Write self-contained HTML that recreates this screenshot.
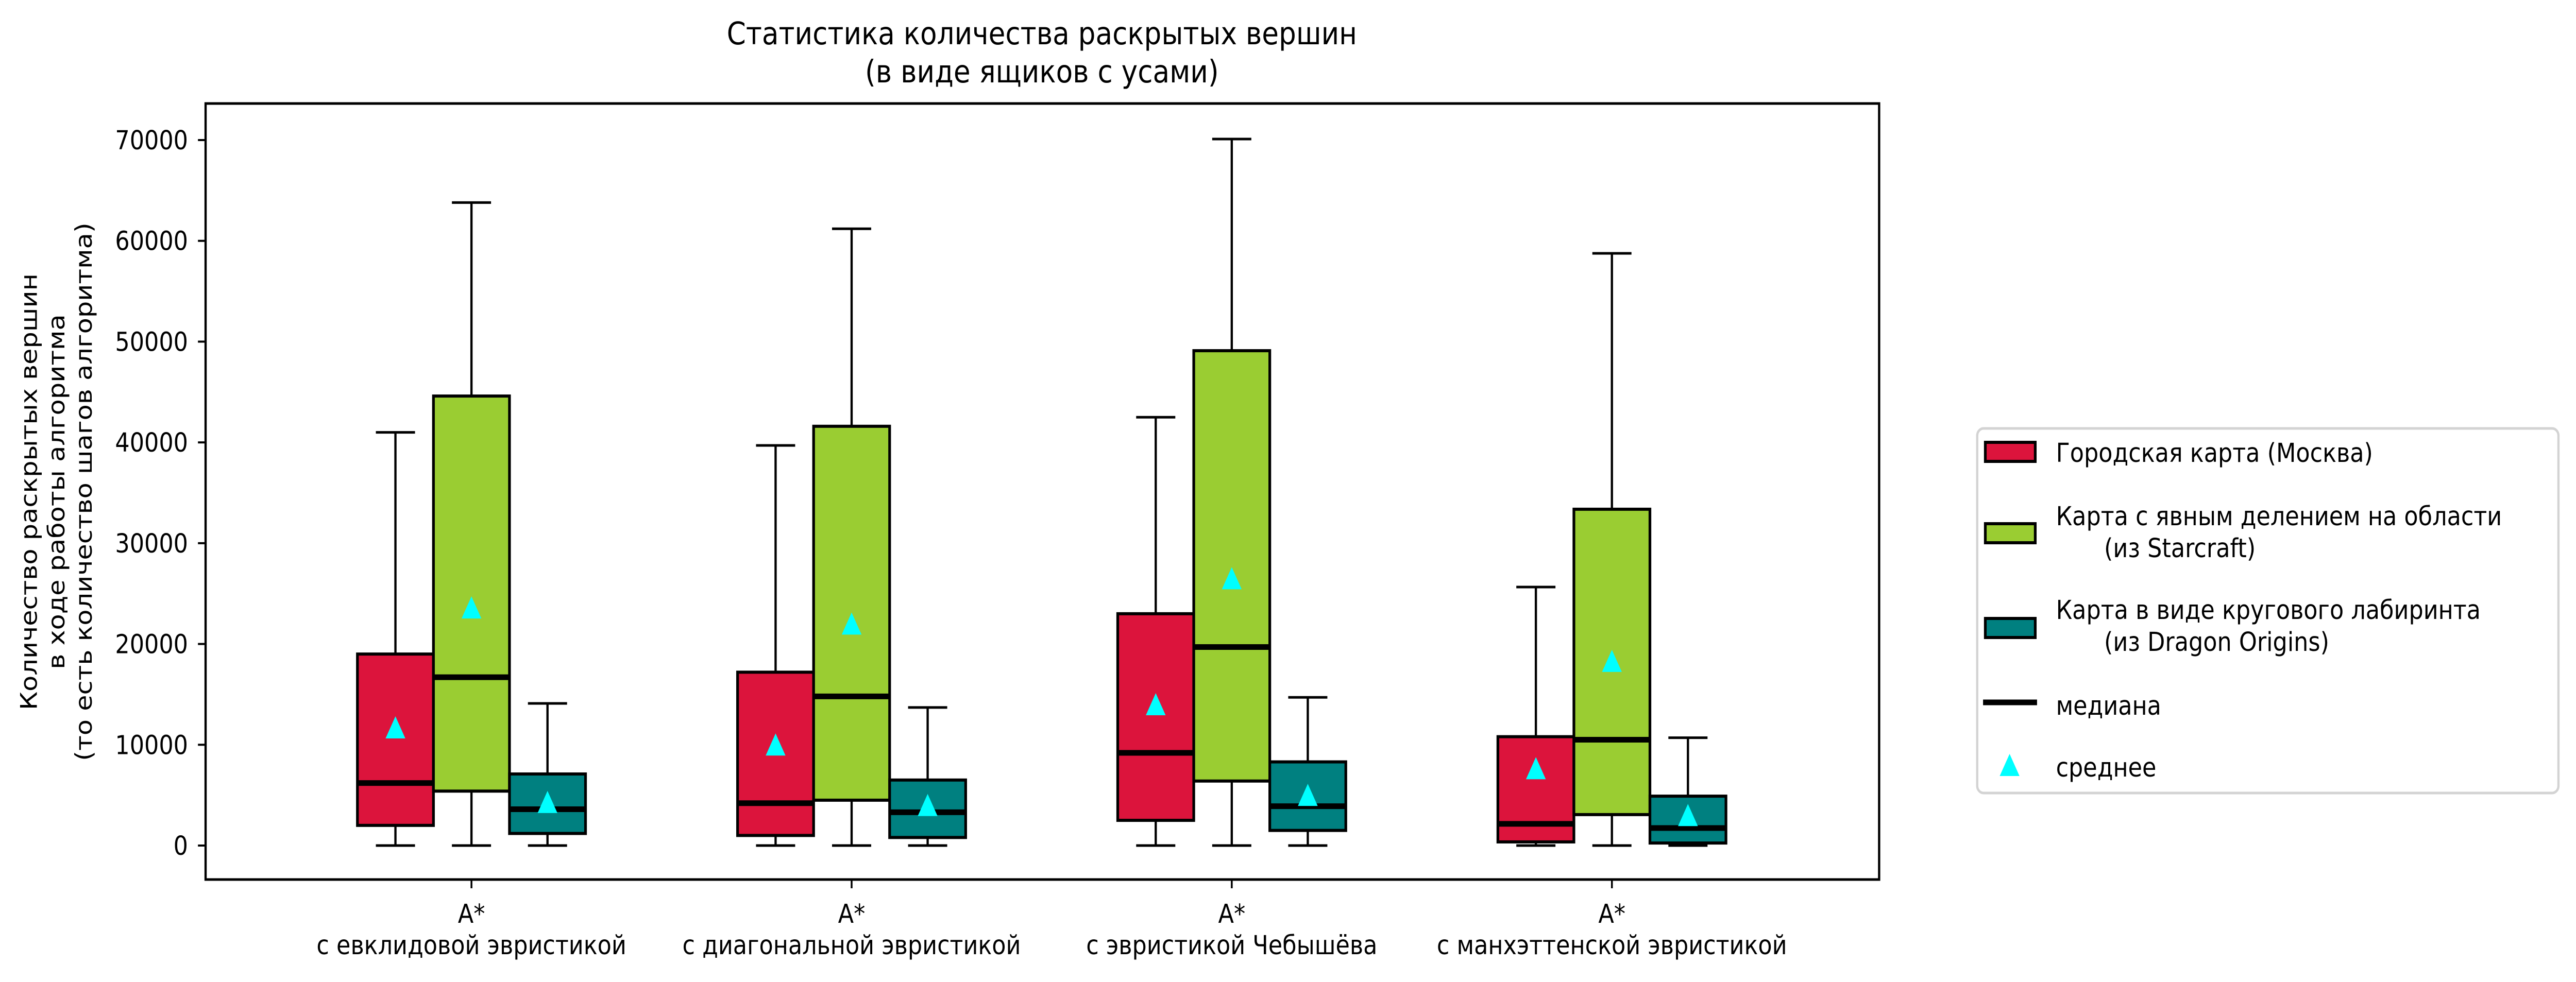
<!DOCTYPE html>
<html><head><meta charset="utf-8">
<style>
html,body{margin:0;padding:0;background:#fff;width:100%;height:100%;overflow:hidden;}
svg{display:block;width:100vw;height:100vh;font-family:"DejaVu Sans","Liberation Sans",sans-serif;}
</style></head>
<body>
<svg id="chart" viewBox="0 0 5726 1907" preserveAspectRatio="none" xmlns="http://www.w3.org/2000/svg">
<rect width="5726" height="1907" fill="#fff"/>
<g>
<text x="2316" y="86" font-size="61" text-anchor="middle">Статистика количества раскрытых вершин</text>
<text x="2316" y="160" font-size="61" text-anchor="middle">(в виде ящиков с усами)</text>
</g>
<g font-size="51" text-anchor="middle">
<text transform="translate(82,955) rotate(-90)">Количество раскрытых вершин</text>
<text transform="translate(143,955) rotate(-90)">в ходе работы алгоритма</text>
<text transform="translate(204,955) rotate(-90)">(то есть количество шагов алгоритма)</text>
</g>
<g id="plot"></g>
<rect x="457" y="201" width="3720" height="1507" fill="none" stroke="#000" stroke-width="5"/>
<g id="xlabels"></g>
<g id="yticks"></g>
<g>
<rect x="4395" y="832" width="1292" height="708" rx="14" fill="#fff" stroke="#d3d3d3" stroke-width="5"/>
<g>
<rect x="4413" y="859" width="111" height="37" fill="#dc143c" stroke="#000" stroke-width="6"/>
<text x="4570" y="897" font-size="51">Городская карта (Москва)</text>
</g>
<g>
<rect x="4413" y="1017" width="111" height="37" fill="#9acd32" stroke="#000" stroke-width="6"/>
<text x="4570" y="1020" font-size="51">Карта с явным делением на области</text>
<text x="4677" y="1082" font-size="51">(из Starcraft)</text>
</g>
<g>
<rect x="4413" y="1201" width="111" height="37" fill="#008080" stroke="#000" stroke-width="6"/>
<text x="4570" y="1202" font-size="51">Карта в виде кругового лабиринта</text>
<text x="4677" y="1264" font-size="51">(из Dragon Origins)</text>
</g>
<g>
<line x1="4408" y1="1364" x2="4528" y2="1364" stroke="#000" stroke-width="11"/>
<text x="4570" y="1388" font-size="51">медиана</text>
</g>
<g>
<polygon points="4467,1464 4489,1507 4445,1507" fill="#00ffff"/>
<text x="4570" y="1508" font-size="51">среднее</text>
</g>
</g>
</svg>
<script>
const categories = ["с евклидовой эвристикой","с диагональной эвристикой","с эвристикой Чебышёва","с манхэттенской эвристикой"];
const seriesNames = ["city","starcraft","dragon"];
const seriesColors = ["#dc143c","#9acd32","#008080"];
const whiskerLow = [[0,0,0],[0,0,0],[0,0,0],[0,0,0]];
const q1 = [[2000,5400,1200],[1000,4500,800],[2500,6400,1500],[360,3070,250]];
const medians = [[6200,16700,3600],[4200,14800,3300],[9200,19700,3900],[2150,10500,1740]];
const q3 = [[19000,44600,7100],[17200,41600,6500],[23000,49100,8300],[10800,33370,4900]];
const whiskerHigh = [[41000,63800,14100],[39700,61200,13700],[42500,70100,14700],[25650,58760,10700]];
const means = [[11700,23600,4300],[10000,22000,4000],[14000,26500,5000],[7650,18300,3000]];
const yTicks = [0,10000,20000,30000,40000,50000,60000,70000];

const NS = "http://www.w3.org/2000/svg";
const y0px = 1642, perUnit = 1370/70000;
function yScale(v){ return y0px - v*perUnit; }
function xCenter(i){ return 1048 + i*845; }
const boxOffset = 169, boxW = 169, capW = 87;
function mk(tag, attrs, parent){
  const e = document.createElementNS(NS, tag);
  for (const k in attrs) e.setAttribute(k, attrs[k]);
  parent.appendChild(e); return e;
}
const plot = document.getElementById('plot');
categories.forEach((c, i) => {
  seriesNames.forEach((s, j) => {
    const cx = xCenter(i) + (j-1)*boxOffset;
    const g = mk('g', {}, plot);
    
    
    const stroke = {stroke:'#000','stroke-width':5};
    mk('line', Object.assign({x1:cx,x2:cx,y1:yScale(whiskerLow[i][j]),y2:yScale(q1[i][j])},stroke), g);
    mk('line', Object.assign({x1:cx,x2:cx,y1:yScale(q3[i][j]),y2:yScale(whiskerHigh[i][j])},stroke), g);
    mk('line', Object.assign({x1:cx-capW/2,x2:cx+capW/2,y1:yScale(whiskerLow[i][j]),y2:yScale(whiskerLow[i][j])},stroke), g);
    mk('line', Object.assign({x1:cx-capW/2,x2:cx+capW/2,y1:yScale(whiskerHigh[i][j]),y2:yScale(whiskerHigh[i][j])},stroke), g);
    mk('rect', {x:cx-boxW/2, y:yScale(q3[i][j]), width:boxW, height:yScale(q1[i][j])-yScale(q3[i][j]), fill:seriesColors[j], stroke:'#000','stroke-width':6}, g);
    mk('line', {x1:cx-boxW/2-2,x2:cx+boxW/2+2,y1:yScale(medians[i][j]),y2:yScale(medians[i][j]),stroke:'#000','stroke-width':11}, g);
    const my = yScale(means[i][j]);
    mk('polygon', {points:`${cx},${my-22} ${cx+22},${my+21} ${cx-22},${my+21}`, fill:'#00ffff'}, g);
  });
});
const xl = document.getElementById('xlabels');
categories.forEach((c, i) => {
  const x = xCenter(i);
  const g = mk('g', {}, xl);
  
  
  mk('line', {x1:x,x2:x,y1:1708,y2:1725,stroke:'#000','stroke-width':4}, g);
  const t1 = mk('text', {x:x,y:1792,'font-size':51,'text-anchor':'middle'}, g); t1.textContent = 'A*';
  const t2 = mk('text', {x:x,y:1853,'font-size':51,'text-anchor':'middle'}, g); t2.textContent = c;
});
const yt = document.getElementById('yticks');
yTicks.forEach(v => {
  const y = yScale(v);
  const g = mk('g', {}, yt);
  
  
  mk('line', {x1:440,x2:457,y1:y,y2:y,stroke:'#000','stroke-width':4}, g);
  const t = mk('text', {x:418,y:y+18,'font-size':51,'text-anchor':'end'}, g); t.textContent = v;
});
</script>
</body></html>
